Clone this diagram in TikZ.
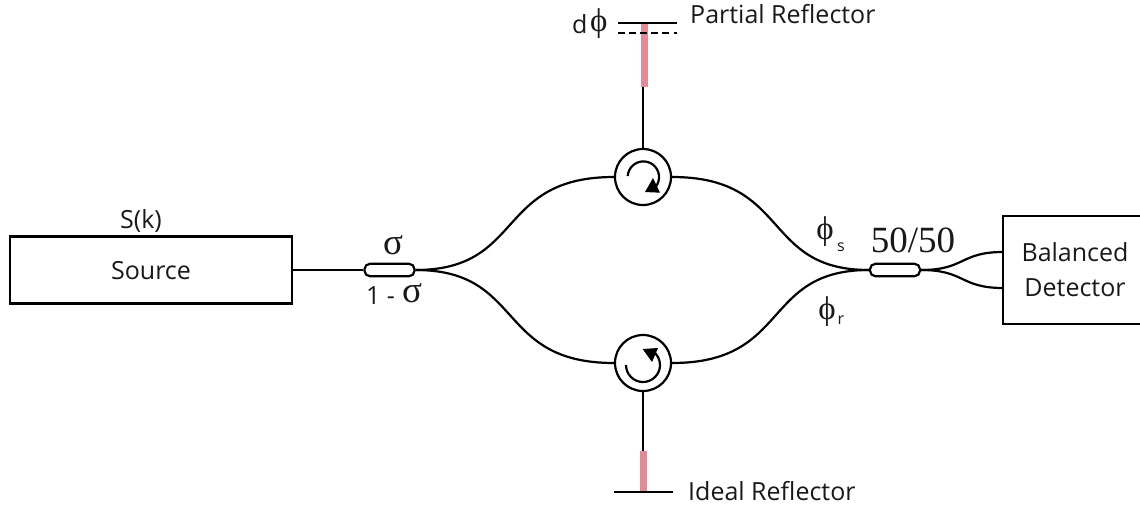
\documentclass[tikz,border=0pt]{standalone}
\usepackage{fontspec}
\setmainfont{Open Sans}
\newfontfamily\serifgr{Liberation Serif}
\definecolor{pinkbar}{RGB}{228,138,150}
\tikzset{
  fib/.style={line width=2.2pt,black},
  box/.style={draw=black,line width=2.2pt,inner sep=0pt,fill=white},
  coupler/.style={draw=black,line width=2.2pt,rounded corners=5.5pt,minimum width=50pt,minimum height=12.5pt,inner sep=0pt,fill=white},
  circ/.style={draw=black,line width=2.2pt,circle,minimum size=56pt,inner sep=0pt,fill=white},
  lab/.style={font=\fontsize{25}{28}\selectfont,inner sep=0pt,text=black!90},
  grk/.style={font=\fontsize{37}{40}\serifgr\selectfont,inner sep=0pt,text=black!90},
  phig/.style={font=\fontsize{33}{36}\serifgr\selectfont,inner sep=0pt,text=black!90},
  subl/.style={font=\fontsize{16}{18}\selectfont,inner sep=0pt,text=black!90},
  pinkb/.style={line width=6.5pt,pinkbar},
  mirror/.style={line width=2.2pt,black}
}
\begin{document}
\begin{tikzpicture}[x=1pt,y=-1pt]
\useasboundingbox (0,0) rectangle (1140,507);
\fill[white] (0,0) rectangle (1140,507);
% boxes
\node[box,minimum width=282pt,minimum height=67pt] (src) at (151,270) {};
\node[lab] (srct) at (151,271) {Source};
\node[lab] (sk) at (141,221) {S(k)};
\draw[box,fill=white] (1003,216) rectangle (1145,324);
\coordinate (detA) at (1003,252);
\coordinate (detB) at (1003,288);
\node[lab] (bal) at (1075,252) {Balanced};
\node[lab] (det) at (1075,288) {Detector};
% nodes
\node[coupler] (c1) at (389.5,270) {};
\node[coupler] (c2) at (895,270) {};
\node[circ] (ct) at (643,177) {};
\node[circ] (cb) at (643,363) {};
% fibres
\draw[fib] (src.east) -- (c1.west);
\draw[fib] (c1.east) .. controls (525,270) and (495,177) .. (ct.west);
\draw[fib] (c1.east) .. controls (525,270) and (495,363) .. (cb.west);
\draw[fib] (ct.east) .. controls (791,177) and (761,270) .. (c2.west);
\draw[fib] (cb.east) .. controls (791,363) and (761,270) .. (c2.west);
\draw[fib] (c2.east) .. controls (965,270) and (960,252) .. (detA);
\draw[fib] (c2.east) .. controls (965,270) and (960,288) .. (detB);
% top arm
\coordinate (tsplice) at (643,87);
\coordinate (tmir) at (644.5,23);
\coordinate (tmL) at (618,23);
\coordinate (tmR) at (677,23);
\coordinate (tdL) at (618,33);
\coordinate (tdR) at (677,33);
\draw[fib] (ct.north) -- (tsplice);
\draw[pinkb] (tmir) -- (tmir |- tsplice);
\draw[mirror] (tmL) -- (tmR);
\draw[mirror,dash pattern=on 6.5pt off 4.6pt] (tdL) -- (tdR);
% bottom arm
\coordinate (bsplice) at (643,451);
\coordinate (bmir) at (643.5,492);
\coordinate (bmL) at (614,492);
\coordinate (bmR) at (673,492);
\draw[fib] (cb.south) -- (bsplice);
\draw[pinkb] (bmir |- bsplice) -- (bmir);
\draw[mirror] (bmL) -- (bmR);
% circulator arrows
\draw[fib] (627.7,176) arc[start angle=184,end angle=412,radius=15.7];
\fill[black] (645,192) -- (660,192.7) -- (653,178) -- cycle;
\draw[fib] (626,365) arc[start angle=180,end angle=-55,radius=17];
\fill[black] (642.7,349) -- (658,348) -- (652,362) -- cycle;
% labels
\node[grk] (sg) at (393,245) {σ};
\node[lab,anchor=west] (om) at (366,296) {1 -};
\node[grk,anchor=west] (sg2) at (402,293) {σ};
\node[grk] (fifty) at (913,240) {50/50};
\node[lab,anchor=west] (dd) at (572,24) {d};
\node[phig,anchor=west] (dphi) at (590,24) {ϕ};
\node[lab,anchor=west] (pr) at (690,14) {Partial Reflector};
\node[lab,anchor=west] (ir) at (688,491) {Ideal Reflector};
\node[phig] (ps) at (825,232) {ϕ};
\node[subl] (pss) at (841,247) {s};
\node[phig] (pr2) at (827,312) {ϕ};
\node[subl] (prs) at (841,320) {r};
\end{tikzpicture}
\end{document}
